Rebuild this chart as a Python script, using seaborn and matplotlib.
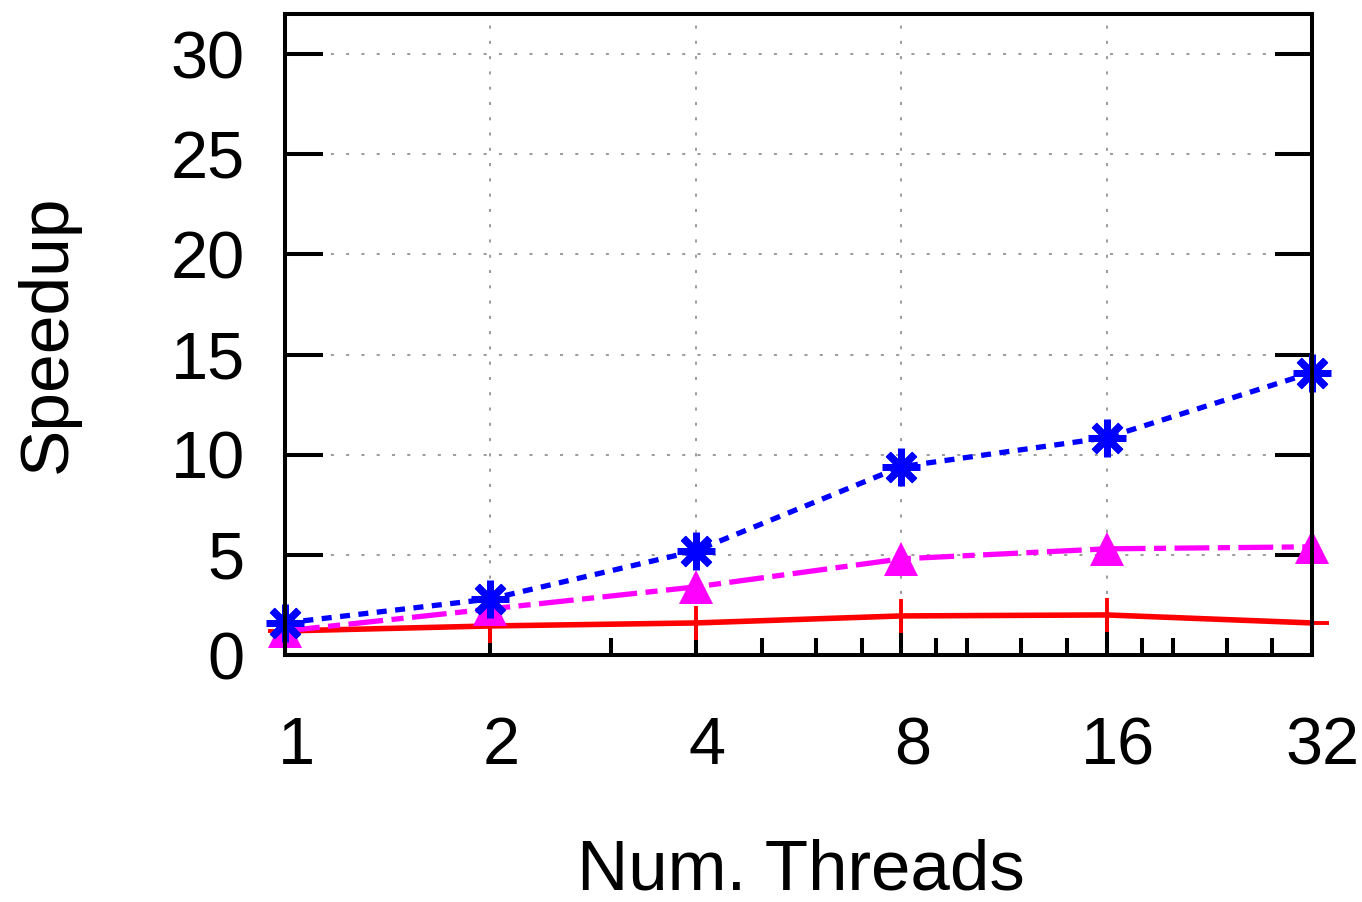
import matplotlib
matplotlib.use("Agg")
import matplotlib.pyplot as plt
from matplotlib.ticker import FixedLocator, FixedFormatter, NullFormatter
from matplotlib.transforms import ScaledTranslation
import seaborn as sns
import pandas as pd

# ---- data ----
threads = [1, 2, 4, 8, 16, 32]
speedup_red = [1.2, 1.45, 1.6, 1.95, 2.0, 1.6]
speedup_magenta = [1.2, 2.3, 3.4, 4.8, 5.3, 5.4]
speedup_blue = [1.6, 2.8, 5.2, 9.4, 10.85, 14.1]
x_tick_labels = ["1", "2", "4", "8", "16", "32"]
x_minor = [3, 5, 6, 7, 9, 10, 12, 14, 18, 20, 24, 28]
y_ticks = [0, 5, 10, 15, 20, 25, 30]

sns.set_style("white")
plt.rcParams["font.family"] = ["Liberation Sans", "DejaVu Sans"]

fig = plt.figure(figsize=(13.62, 9.02), dpi=100)
ax = fig.add_axes([285 / 1362, 1 - 655 / 902, (1312 - 285) / 1362, (655 - 14) / 902])

df_red = pd.DataFrame({"x": threads, "y": speedup_red})
df_mag = pd.DataFrame({"x": threads, "y": speedup_magenta})
df_blue = pd.DataFrame({"x": threads, "y": speedup_blue})

sns.lineplot(data=df_red, x="x", y="y", ax=ax, color="#ff0000", lw=4.0,
             marker="+", markersize=24, markeredgewidth=2.8,
             markeredgecolor="#ff0000", clip_on=False, zorder=3)
sns.lineplot(data=df_mag, x="x", y="y", ax=ax, color="#ff00ff", lw=3.8,
             dashes=(6.6, 1.6, 2.3, 1.6), marker="^", markersize=24,
             markeredgewidth=0, markerfacecolor="#ff00ff", clip_on=False,
             zorder=4)
sns.lineplot(data=df_blue, x="x", y="y", ax=ax, color="#0000ff", lw=3.8,
             dashes=(1.9, 1.6), marker=(8, 2, 0), markersize=27,
             markeredgewidth=5.0, markeredgecolor="#0000ff", clip_on=False,
             zorder=5)

ax.set_xscale("log", base=2)
ax.set_xlim(1, 32)
ax.set_ylim(0, 32)

ax.xaxis.set_major_locator(FixedLocator(threads))
ax.xaxis.set_major_formatter(FixedFormatter(x_tick_labels))
ax.xaxis.set_minor_locator(FixedLocator(x_minor))
ax.xaxis.set_minor_formatter(NullFormatter())
ax.set_yticks(y_ticks)
ax.set_yticklabels([str(v) for v in y_ticks])

ax.grid(True, which="major", color="#808080", linestyle=(0, (2, 8)), linewidth=1.1)
ax.set_axisbelow(True)

for s in ax.spines.values():
    s.set_linewidth(2.9)
    s.set_color("black")
    s.set_visible(True)
    s.set_zorder(6)

ax.tick_params(axis="both", which="major", direction="in", length=27, width=2.9,
               color="black", labelsize=48, labelcolor="black")
ax.tick_params(axis="x", which="major", pad=44, top=False, bottom=True)
ax.tick_params(axis="x", which="minor", direction="in", length=12, width=2.9,
               color="black", top=False, bottom=True)
ax.tick_params(axis="y", which="major", pad=29, left=True, right=True)

ax.set_xlabel("Num. Threads", fontsize=51, color="black")
ax.set_ylabel("Speedup", fontsize=50, color="black")
ax.xaxis.set_label_coords((801 - 285) / 1027, (655 - 838) / 641)
ax.yaxis.set_label_coords((80 - 285) / 1027, (655 - 334) / 641)

offset = ScaledTranslation(11 / 100, 0, fig.dpi_scale_trans)
for lab in ax.get_xticklabels():
    lab.set_transform(lab.get_transform() + offset)

fig.savefig("out.png", dpi=100)
